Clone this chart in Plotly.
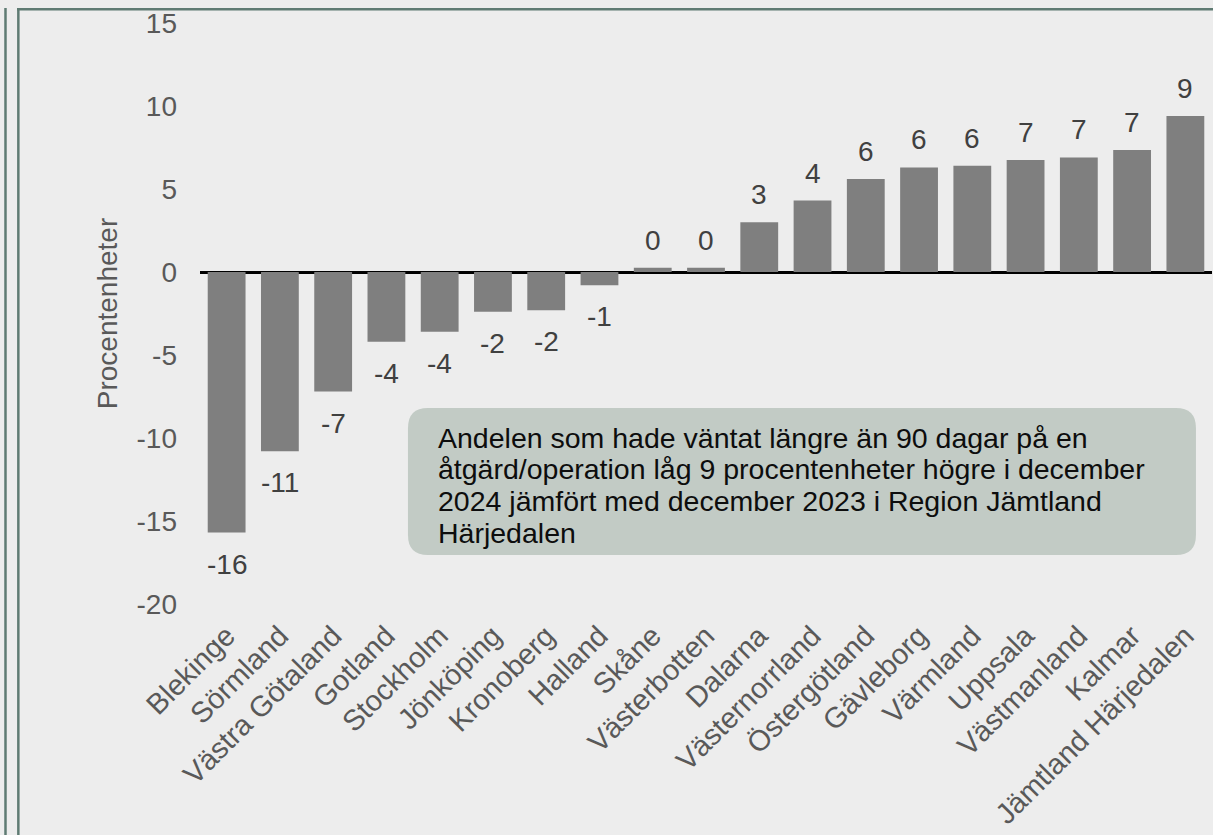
import plotly.graph_objects as go

regions = ["Blekinge", "Sörmland", "Västra Götaland", "Gotland", "Stockholm",
           "Jönköping", "Kronoberg", "Halland", "Skåne", "Västerbotten",
           "Dalarna", "Västernorrland", "Östergötland", "Gävleborg", "Värmland",
           "Uppsala", "Västmanland", "Kalmar", "Jämtland Härjedalen"]
change = [-15.7, -10.8, -7.2, -4.2, -3.6, -2.4, -2.3, -0.8, 0.25, 0.25,
          3.0, 4.3, 5.6, 6.3, 6.4, 6.75, 6.9, 7.35, 9.4]
labels = [str(round(v)) for v in change]

y_ticks = [-20, -15, -10, -5, 0, 5, 10, 15]
y_ticktext = ["-20", "-15", "-10", "-5", "0", "5", "10", "15"]
y_title = "Procentenheter"
note_lines = ["Andelen som hade väntat längre än 90 dagar på en",
              "åtgärd/operation låg 9 procentenheter högre i december",
              "2024 jämfört med december 2023 i Region Jämtland",
              "Härjedalen"]

FONT = "Liberation Sans, Arial, sans-serif"
BG = "#EDEDED"
FRAME = "#5F7B73"

fig = go.Figure()
fig.add_trace(go.Bar(x=regions, y=change, marker=dict(color="#7F7F7F", line=dict(width=0)),
                     hoverinfo="x+y"))

annotations = []
for r, v, t in zip(regions, change, labels):
    pos = v >= 0
    annotations.append(dict(x=r, y=v, xref="x", yref="y", text=t, showarrow=False,
                            yanchor="bottom" if pos else "top",
                            yshift=10 if pos else -14,
                            font=dict(family=FONT, size=28, color="#404040")))

# note text, one annotation per line for tight line spacing
plot_h = 835 - 23 - 231
line_px = 31.5
top_px = 420  # page pixel of first line box top
for i, line in enumerate(note_lines):
    ypx = top_px + i * line_px
    annotations.append(dict(xref="paper", yref="paper", x=0.233,
                            y=(604 - ypx) / plot_h,
                            xanchor="left", yanchor="top", align="left", showarrow=False,
                            text=line,
                            font=dict(family=FONT, size=28.5, color="#0d0d0d")))

shapes = [
    # rounded note box
    dict(type="path", xref="paper", yref="paper", xsizemode="pixel", ysizemode="pixel",
         xanchor=0.2055, yanchor=0.3373,
         path="M 20,0 L 768,0 Q 788,0 788,-20 L 788,-127 Q 788,-147 768,-147 "
              "L 20,-147 Q 0,-147 0,-127 L 0,-20 Q 0,0 20,0 Z",
         fillcolor="#C2CBC5", line=dict(width=0), layer="below"),
    # frame lines
    dict(type="line", xref="paper", yref="paper", x0=-0.1922, x1=-0.1922, y0=1.026, y1=-0.40,
         line=dict(color=FRAME, width=2.5)),
    dict(type="line", xref="paper", yref="paper", x0=-0.1795, x1=-0.1795, y0=1.026, y1=-0.40,
         line=dict(color=FRAME, width=2.5)),
    dict(type="line", xref="paper", yref="paper", x0=-0.1808, x1=1.01, y0=1.0235, y1=1.0235,
         line=dict(color=FRAME, width=2.5)),
]

fig.update_layout(
    width=1213, height=835,
    margin=dict(l=200, r=1, t=23, b=231, autoexpand=False),
    paper_bgcolor=BG, plot_bgcolor=BG,
    bargap=0.29, showlegend=False,
    font=dict(family=FONT, size=28, color="#595959"),
    annotations=annotations, shapes=shapes,
)
fig.update_xaxes(tickangle=-45, showgrid=False, showline=False, ticks="",
                 ticklabelstandoff=8,
                 tickfont=dict(family=FONT, size=29, color="#595959"), automargin=False)
fig.update_yaxes(range=[-20, 15], tickvals=y_ticks, ticktext=y_ticktext,
                 showgrid=False, showline=False,
                 ticks="", ticklabelstandoff=22,
                 zeroline=True, zerolinecolor="#000000", zerolinewidth=2.5,
                 tickfont=dict(family=FONT, size=28, color="#595959"),
                 title=dict(text=y_title, standoff=10,
                            font=dict(family=FONT, size=28, color="#595959")),
                 automargin=False)

fig.write_html("out.html", config={"displayModeBar": False},
               post_script="document.body.style.margin='0';document.body.style.background='#EDEDED';")
